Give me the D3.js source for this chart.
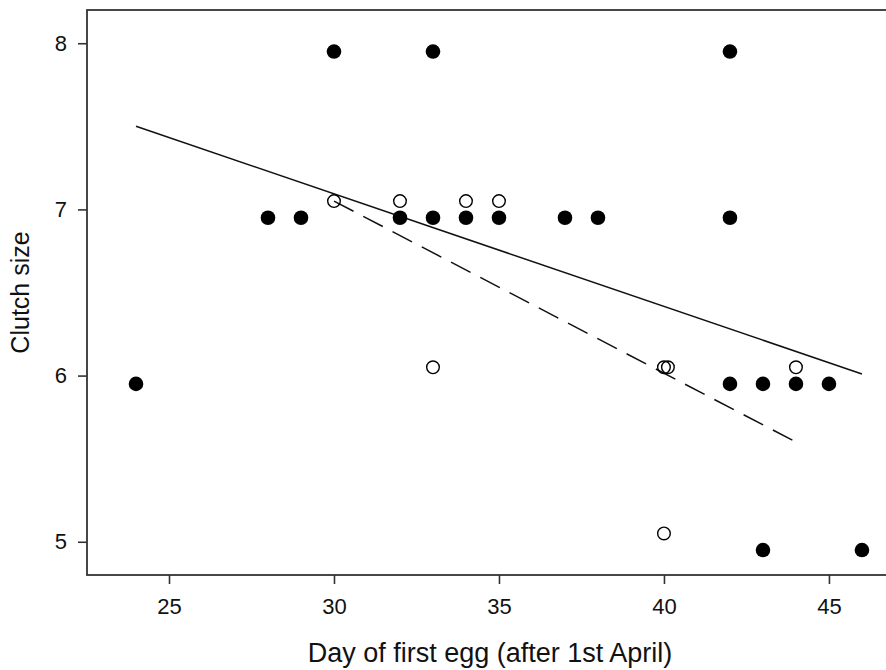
<!DOCTYPE html>
<html>
<head>
<meta charset="utf-8">
<script src="https://cdn.jsdelivr.net/npm/d3@7/dist/d3.min.js"></script>
<style>
  html, body { margin: 0; padding: 0; background: #fff; }
  text { font-family: "Liberation Sans", Arial, sans-serif; fill: #111; }
</style>
</head>
<body>
<div id="chart"></div>
<script>
// Filled circles: day of first egg / clutch size
const filledDays   = [24, 28, 29, 30, 33, 42, 32, 33, 34, 35, 37, 38, 42, 42, 43, 44, 45, 43, 46];
const filledClutch = [ 6,  7,  7,  8,  8,  8,  7,  7,  7,  7,  7,  7,  7,  6,  6,  6,  6,  5,  5];

// Open circles
const openDays   = [30, 32, 34, 35, 33, 40, 40.12, 44, 40];
const openClutch = [ 7,  7,  7,  7,  6,  6,  6,     6,  5];

// Fitted lines (end points)
const solidDays   = [24, 46];
const solidFit    = [7.50, 6.01];
const dashedDays  = [30, 44];
const dashedFit   = [7.05, 5.60];

const xTicks = [25, 30, 35, 40, 45];
const yTicks = [5, 6, 7, 8];

const width = 886, height = 670;
const margin = {top: 10, right: -4, bottom: 95, left: 87};
const innerWidth = width - margin.left - margin.right;
const innerHeight = height - margin.top - margin.bottom;

const svg = d3.select('#chart')
    .append('svg')
    .attr('width', width)
    .attr('height', height)
    .append('g')
    .attr('transform', `translate(${margin.left}, ${margin.top})`);

const x = d3.scaleLinear().domain([22.515, 46.85]).range([0, innerWidth]);
const y = d3.scaleLinear().domain([4.8, 8.2]).range([innerHeight, 0]);

// small vertical offset so filled and open points at the same value don't overlap
const jitter = 0.05;

// frame
svg.append('rect')
    .attr('x', 0).attr('y', 0)
    .attr('width', innerWidth).attr('height', innerHeight)
    .attr('fill', 'none')
    .attr('stroke', '#333')
    .attr('stroke-width', 1.8);

// x axis
const xAxis = svg.append('g')
    .attr('transform', `translate(0, ${innerHeight})`)
    .call(d3.axisBottom(x).tickValues(xTicks).tickSize(9).tickPadding(14).tickFormat(d3.format('d')));
xAxis.select('.domain').remove();
xAxis.selectAll('line').attr('stroke', '#333').attr('stroke-width', 1.6);
xAxis.selectAll('text').style('font-size', '22px').style('font-family', '"Liberation Sans", Arial, sans-serif').attr('fill', '#111');

// y axis
const yAxis = svg.append('g')
    .call(d3.axisLeft(y).tickValues(yTicks).tickSize(9).tickPadding(11).tickFormat(d3.format('d')));
yAxis.select('.domain').remove();
yAxis.selectAll('line').attr('stroke', '#333').attr('stroke-width', 1.6);
yAxis.selectAll('text').style('font-size', '22px').style('font-family', '"Liberation Sans", Arial, sans-serif').attr('fill', '#111');

// axis titles
svg.append('text')
    .attr('x', 403)
    .attr('y', innerHeight + 87)
    .attr('text-anchor', 'middle')
    .style('font-size', '27px')
    .text('Day of first egg (after 1st April)');

svg.append('text')
    .attr('transform', 'rotate(-90)')
    .attr('x', -innerHeight / 2)
    .attr('y', -58)
    .attr('text-anchor', 'middle')
    .style('font-size', '25px')
    .text('Clutch size');

// fitted lines
const line = d3.line().x(d => x(d[0])).y(d => y(d[1]));

svg.append('path')
    .datum(d3.zip(solidDays, solidFit))
    .attr('d', line)
    .attr('fill', 'none')
    .attr('stroke', '#111')
    .attr('stroke-width', 1.5);

svg.append('path')
    .datum(d3.zip(dashedDays, dashedFit))
    .attr('d', line)
    .attr('fill', 'none')
    .attr('stroke', '#111')
    .attr('stroke-width', 1.5)
    .attr('stroke-dasharray', '22,11');

// points
svg.selectAll('.filled')
    .data(d3.zip(filledDays, filledClutch))
    .enter()
    .append('circle')
    .attr('class', 'filled')
    .attr('cx', d => x(d[0]))
    .attr('cy', d => y(d[1] - jitter))
    .attr('r', 7.3)
    .attr('fill', '#000');

svg.selectAll('.open')
    .data(d3.zip(openDays, openClutch))
    .enter()
    .append('circle')
    .attr('class', 'open')
    .attr('cx', d => x(d[0]))
    .attr('cy', d => y(d[1] + jitter))
    .attr('r', 6.3)
    .attr('fill', 'none')
    .attr('stroke', '#000')
    .attr('stroke-width', 1.4);
</script>
</body>
</html>
